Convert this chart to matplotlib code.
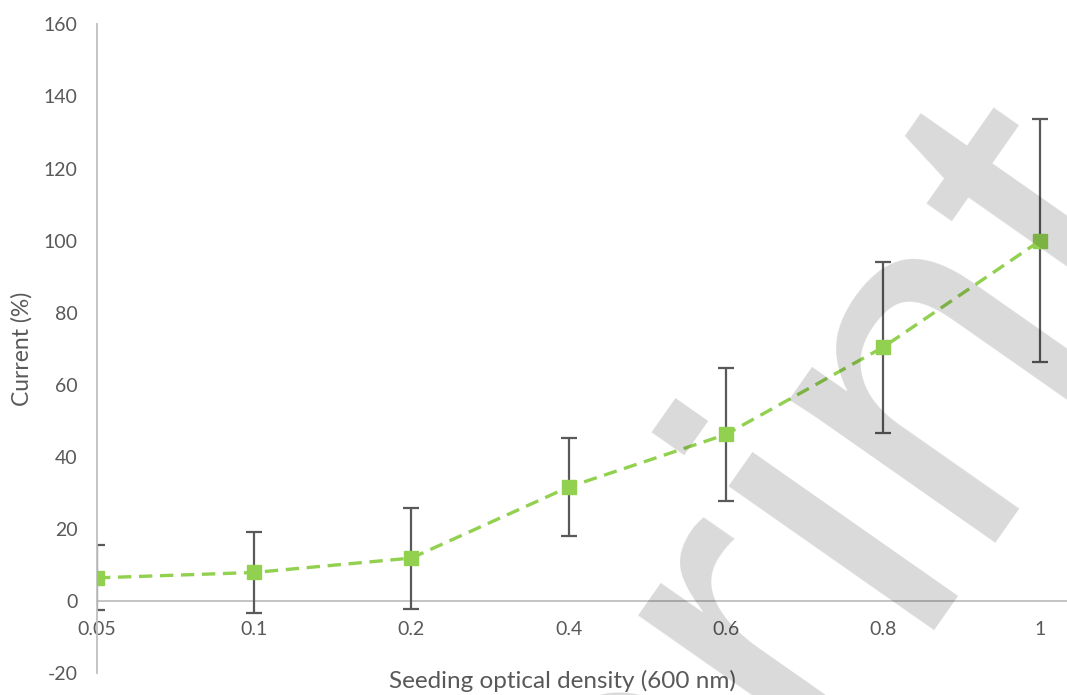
import matplotlib
matplotlib.use("Agg")
import matplotlib.pyplot as plt

# seeding OD categories and normalised current (mean +/- sd)
od_labels = ["0.05", "0.1", "0.2", "0.4", "0.6", "0.8", "1"]
current = [6.4, 7.9, 11.9, 31.6, 46.2, 70.4, 100.0]
current_err = [9.0, 11.2, 14.0, 13.6, 18.4, 23.7, 33.7]
y_ticks = [-20, 0, 20, 40, 60, 80, 100, 120, 140, 160]

plt.rcParams['font.family'] = ['Lato', 'DejaVu Sans']
plt.rcParams['axes.unicode_minus'] = False
text_col = '#595959'
axis_col = '#BFBFBF'

fig = plt.figure(figsize=(10.67, 6.95), dpi=100)
ax = fig.add_axes([97/1067, 22/695, 970/1067, 648.6/695])

x = list(range(len(od_labels)))
ax.errorbar(x, current, yerr=current_err, fmt='none', ecolor='#595959',
            elinewidth=1.6, capsize=5.5, capthick=1.6, zorder=2)
ax.plot(x, current, color='#92D050', linestyle='--', dashes=(4, 2.3),
        linewidth=2.4, marker='s', markersize=9.5, zorder=3)

ax.set_xlim(0, 6.17)
ax.set_ylim(-20, 160)
ax.set_yticks(y_ticks)
ax.set_xticks(x)
ax.set_xticklabels(od_labels)

for side in ['top', 'right']:
    ax.spines[side].set_visible(False)
ax.spines['bottom'].set_position(('data', 0))
ax.spines['bottom'].set_color(axis_col)
ax.spines['left'].set_color(axis_col)
ax.spines['bottom'].set_linewidth(1.3)
ax.spines['left'].set_linewidth(1.3)
ax.spines['bottom'].set_zorder(1)
ax.tick_params(axis='both', length=0, labelsize=14, labelcolor=text_col)
ax.tick_params(axis='y', pad=14)
ax.tick_params(axis='x', pad=14.5)

fig.text(562/1067, 1 - 681/695, 'Seeding optical density (600 nm)',
         ha='center', va='center', fontsize=17.5, color=text_col)
fig.text(22/1067, 1 - 349/695, 'Current (%)', rotation=90,
         ha='center', va='center', fontsize=16.5, color=text_col)

# watermark over the plot
fig.text(234/1067, 1 - 1575/695, 'Preprint', rotation=55, rotation_mode='anchor',
         ha='left', va='baseline', fontsize=342, family='Liberation Sans',
         color='black', alpha=0.15, zorder=10)

fig.savefig('out.png', dpi=100)
